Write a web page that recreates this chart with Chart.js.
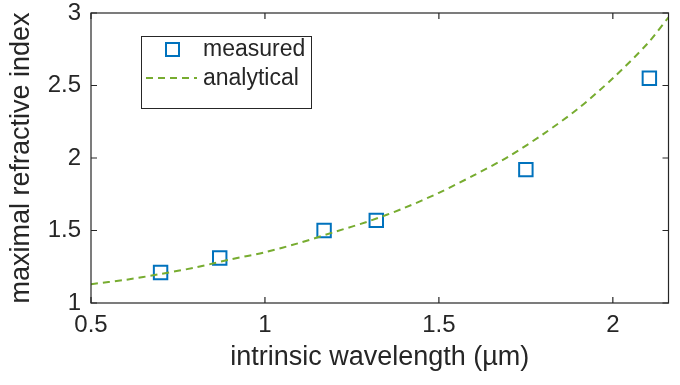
<!DOCTYPE html>
<html>
<head>
<meta charset="utf-8">
<script src="https://cdn.jsdelivr.net/npm/chart.js@4"></script>
<style>
  html, body { margin: 0; padding: 0; background: #fff; }
  #wrap { width: 680px; height: 385px; }
</style>
</head>
<body>
<div id="wrap"><canvas id="chart"></canvas></div>
<script>
// measured vs analytical maximal refractive index
const measuredX = [0.70, 0.87, 1.17, 1.32, 1.75, 2.105];
const measuredY = [1.21, 1.31, 1.50, 1.57, 1.92, 2.55];

const analyticalX = [0.5, 0.6, 0.7, 0.8, 0.9, 1.0, 1.1, 1.2, 1.3, 1.4, 1.5, 1.6, 1.7, 1.8, 1.9, 2.0, 2.1, 2.16];
const analyticalY = [1.13, 1.16, 1.20, 1.245, 1.30, 1.35, 1.415, 1.49, 1.565, 1.655, 1.76, 1.88, 2.01, 2.165, 2.34, 2.55, 2.79, 2.97];

const xTicks = [0.5, 1, 1.5, 2];
const yTicks = [1, 1.5, 2, 2.5, 3];

const FONT = '"Liberation Sans", Arial, Helvetica, sans-serif';
const INK = '#262626';
const BLUE = '#0072BD';
const GREEN = '#77AC30';

// MATLAB-like box with inward ticks on all sides + legend
const frame = {
    id: 'frame',
    afterDraw(chart) {
        const { ctx, chartArea: a, scales } = chart;
        ctx.save();
        ctx.strokeStyle = INK;
        ctx.lineWidth = 1.2;
        ctx.strokeRect(a.left, a.top, a.right - a.left, a.bottom - a.top);
        const tl = 6;
        ctx.beginPath();
        xTicks.forEach(v => {
            const px = scales.x.getPixelForValue(v);
            ctx.moveTo(px, a.bottom); ctx.lineTo(px, a.bottom - tl);
            ctx.moveTo(px, a.top); ctx.lineTo(px, a.top + tl);
        });
        yTicks.forEach(v => {
            const py = scales.y.getPixelForValue(v);
            ctx.moveTo(a.left, py); ctx.lineTo(a.left + tl, py);
            ctx.moveTo(a.right, py); ctx.lineTo(a.right - tl, py);
        });
        ctx.stroke();

        // legend
        ctx.fillStyle = '#fff';
        ctx.fillRect(141, 36, 170, 72);
        ctx.strokeStyle = INK;
        ctx.lineWidth = 1;
        ctx.strokeRect(141.5, 36.5, 170, 72);
        ctx.strokeStyle = BLUE;
        ctx.lineWidth = 2;
        ctx.strokeRect(166, 43, 13, 13);
        ctx.strokeStyle = GREEN;
        ctx.setLineDash([7, 5]);
        ctx.beginPath();
        ctx.moveTo(146, 78); ctx.lineTo(197, 78);
        ctx.stroke();
        ctx.setLineDash([]);
        ctx.fillStyle = INK;
        ctx.font = '23px ' + FONT;
        ctx.textBaseline = 'middle';
        ctx.fillText('measured', 203, 50);
        ctx.fillText('analytical', 203, 79);
        ctx.restore();
    }
};

new Chart(document.getElementById('chart').getContext('2d'), {
    type: 'scatter',
    data: {
        datasets: [{
            label: 'analytical',
            type: 'line',
            data: analyticalX.map((x, i) => ({ x: x, y: analyticalY[i] })),
            borderColor: GREEN,
            borderWidth: 2,
            borderDash: [7, 5],
            pointRadius: 0,
            tension: 0.3,
            fill: false
        }, {
            label: 'measured',
            data: measuredX.map((x, i) => ({ x: x, y: measuredY[i] })),
            pointStyle: 'rect',
            pointRadius: 9.5,
            pointBorderWidth: 2,
            borderColor: BLUE,
            backgroundColor: 'rgba(0,0,0,0)'
        }]
    },
    options: {
        responsive: true,
        maintainAspectRatio: false,
        animation: false,
        layout: { padding: { top: 13, right: 11, left: 0, bottom: 0 } },
        plugins: {
            legend: { display: false },
            tooltip: { enabled: false }
        },
        scales: {
            x: {
                type: 'linear',
                min: 0.5,
                max: 2.16,
                afterFit: s => { s.height = 82; s.paddingLeft = 0; s.paddingRight = 0; },
                afterBuildTicks: s => { s.ticks = xTicks.map(v => ({ value: v })); },
                grid: { display: false, drawTicks: false },
                border: { display: false },
                ticks: {
                    color: INK,
                    padding: 8,
                    font: { family: FONT, size: 24 },
                    maxRotation: 0,
                    callback: v => String(v)
                },
                title: {
                    display: true,
                    text: 'intrinsic wavelength (µm)',
                    color: INK,
                    font: { family: FONT, size: 27 },
                    padding: { top: 0, bottom: 11 }
                }
            },
            y: {
                min: 1,
                max: 3,
                afterFit: s => { s.width = 91; s.paddingTop = 0; s.paddingBottom = 0; },
                afterBuildTicks: s => { s.ticks = yTicks.map(v => ({ value: v })); },
                grid: { display: false, drawTicks: false },
                border: { display: false },
                ticks: {
                    color: INK,
                    padding: 10,
                    font: { family: FONT, size: 24 },
                    callback: v => String(v)
                },
                title: {
                    display: true,
                    text: 'maximal refractive index',
                    color: INK,
                    font: { family: FONT, size: 27 },
                    padding: { top: 5, bottom: 0 }
                }
            }
        }
    },
    plugins: [frame]
});
</script>
</body>
</html>
